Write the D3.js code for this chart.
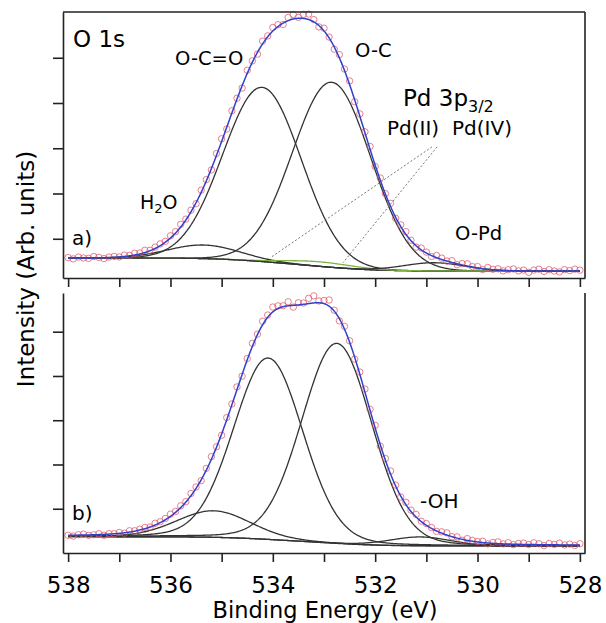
<!DOCTYPE html>
<html>
<head>
<meta charset="utf-8">
<script src="https://cdn.jsdelivr.net/npm/d3@7"></script>
<style>
  html, body { margin: 0; padding: 0; background: #fff; }
  svg { display: block; font-family: "DejaVu Sans", sans-serif; }
</style>
</head>
<body>
<svg id="chart" width="606" height="623"></svg>
<script>
// ---- data ----
const xTicks = [538, 537, 536, 535, 534, 533, 532, 531, 530, 529, 528];
const xTickLabels = [538, 536, 534, 532, 530, 528];
const topYTicks = [1, 2, 3, 4, 5];
const botYTicks = [1, 2, 3, 4, 5];

// a) fitted components: H2O, O-C=O, O-C, Pd 3p3/2 (green), O-Pd
const topCenters = [535.35, 534.21, 532.85, 533.10, 530.85];
const topHeights = [0.30, 3.85, 4.09, 0.10, 0.18];
const topFwhm    = [1.65, 1.80, 1.80, 1.55, 1.40];
const topMix = 0.0;                 // gaussian share only
const topBackground = [0.575, 0.287]; // high-BE end, low-BE end

// b) fitted components: H2O, O-C=O, O-C, -OH
const botCenters = [535.16, 534.09, 532.75, 531.12];
const botHeights = [0.60, 4.10, 4.52, 0.20];
const botFwhm    = [1.70, 1.60, 1.62, 1.40];
const botMix = 0.1;
const botBackground = [0.368, 0.158];

// measured points, 538 -> 528 eV every 0.1 eV, given as offset from the fit envelope
const topResidual = [
  0.01,-0.02,0.02,0.00,-0.01,0.03,0.01,-0.02,0.01,0.02,
  0.00,0.03,0.01,0.04,0.02,0.05,0.01,0.03,0.04,0.02,
  0.05,0.03,0.06,0.02,0.04,-0.02,0.05,0.03,-0.03,0.04,
  0.06,-0.04,0.05,0.02,-0.05,0.07,0.03,-0.04,0.06,0.02,
  0.08,0.04,-0.03,0.07,0.10,0.02,0.09,0.12,0.05,-0.03,
  0.06,0.02,-0.05,0.07,0.03,0.08,-0.04,0.05,0.02,0.06,
  -0.03,0.05,0.01,0.07,-0.02,0.04,0.06,0.01,-0.03,0.04,
  0.02,-0.02,0.05,0.03,0.00,0.04,-0.02,0.03,0.05,0.01,
  0.03,-0.02,0.04,0.01,0.03,-0.01,0.02,0.04,0.00,0.02,
  -0.03,0.02,0.04,-0.01,0.03,0.00,-0.02,0.03,0.01,0.04,0.02
];
const botResidual = [
  0.00,-0.02,0.01,0.02,-0.01,0.00,0.02,-0.02,0.01,0.00,
  0.02,-0.01,0.03,0.01,0.02,0.03,0.00,0.04,0.02,0.03,
  0.05,0.02,0.04,0.01,0.05,0.03,-0.02,0.04,0.06,0.01,
  -0.03,0.05,0.02,0.06,-0.04,0.03,0.07,0.01,0.08,0.05,
  0.11,0.06,0.02,0.09,-0.04,0.05,0.03,0.12,0.16,0.04,
  0.07,0.14,0.02,-0.05,0.06,0.03,-0.04,0.05,0.07,0.02,
  0.06,-0.03,0.04,0.07,0.02,-0.02,0.05,0.03,0.06,0.01,
  0.04,0.02,-0.01,0.03,0.05,0.00,0.03,-0.02,0.04,0.02,
  0.01,0.03,-0.02,0.02,0.04,0.00,0.03,-0.01,0.02,0.03,
  0.00,0.04,0.02,-0.02,0.03,0.01,0.04,0.00,0.02,-0.01,0.03
];

// ---- scales ----
const svg = d3.select("#chart");
const x = d3.scaleLinear().domain([538.1, 527.9]).range([63, 585]);
const yTop = d3.scaleLinear().domain([0.133, 6.011]).range([278, 12]);
const yBot = d3.scaleLinear().domain([0, 5.875]).range([553, 293]);

const energies = d3.range(0, 101).map(i => +(538 - i * 0.1).toFixed(2));
const grid = d3.range(0, 501).map(i => 528 + i * 0.02);

function pv(E, c, h, w, m) {
  const d = E - c;
  const g = Math.exp(-4 * Math.LN2 * d * d / (w * w));
  const l = 1 / (1 + 4 * d * d / (w * w));
  return h * ((1 - m) * g + m * l);
}

function drawPanel(yScale, centers, heights, fwhm, mix, bgEnds, colors, residual) {
  const peakSum = E => d3.sum(centers, (c, k) => pv(E, c, heights[k], fwhm[k], mix));
  // shirley-like step background
  let acc = 0;
  const cum = grid.map(E => (acc += peakSum(E)));
  const total = cum[cum.length - 1];
  const bg = E => {
    const i = Math.max(0, Math.min(grid.length - 1, Math.round((E - 528) / 0.02)));
    return bgEnds[1] + (bgEnds[0] - bgEnds[1]) * cum[i] / total;
  };
  const envelope = E => bg(E) + peakSum(E);

  const line = d3.line().x(d => x(d[0])).y(d => yScale(d[1]));
  const g = svg.append("g");

  g.append("path")
    .attr("d", line(grid.map(E => [E, bg(E)])))
    .attr("fill", "none").attr("stroke", "#333").attr("stroke-width", 1.3);

  centers.forEach((c, k) => {
    g.append("path")
      .attr("d", line(grid.map(E => [E, bg(E) + pv(E, c, heights[k], fwhm[k], mix)])))
      .attr("fill", "none").attr("stroke", colors[k]).attr("stroke-width", 1.3);
  });

  g.selectAll("circle.pt")
    .data(energies.map((E, i) => [E, envelope(E) + residual[i]]))
    .enter().append("circle")
    .attr("class", "pt")
    .attr("cx", d => x(d[0]))
    .attr("cy", d => yScale(d[1]))
    .attr("r", 3.2)
    .attr("fill", "none")
    .attr("stroke", "#e05565")
    .attr("stroke-opacity", 0.75)
    .attr("stroke-width", 1.0);

  g.append("path")
    .attr("d", line(grid.map(E => [E, envelope(E)])))
    .attr("fill", "none").attr("stroke", "#3040cc").attr("stroke-width", 1.5);
}

drawPanel(yTop, topCenters, topHeights, topFwhm, topMix, topBackground,
  ["#333", "#333", "#333", "#7cb342", "#333"], topResidual);
drawPanel(yBot, botCenters, botHeights, botFwhm, botMix, botBackground,
  ["#333", "#333", "#333", "#333"], botResidual);

// ---- pointer lines from Pd labels ----
const pdPointers = [[530.89, 3.03, 534.05, 0.58], [530.79, 3.03, 532.63, 0.47]];
svg.append("g").selectAll("line")
  .data(pdPointers)
  .enter().append("line")
  .attr("x1", d => x(d[0])).attr("y1", d => yTop(d[1]))
  .attr("x2", d => x(d[2])).attr("y2", d => yTop(d[3]))
  .attr("stroke", "#666").attr("stroke-width", 0.9).attr("stroke-dasharray", "2,2");

// ---- axes / frames ----
const frameColor = "#222";
function styleAxis(sel) {
  sel.selectAll("path, line").attr("stroke", frameColor).attr("stroke-width", 1.6);
}

// top panel
svg.append("g").attr("transform", "translate(0,278)")
  .call(d3.axisBottom(x).tickValues(xTicks).tickSize(9).tickSizeOuter(0).tickFormat(""))
  .call(styleAxis);
svg.append("g").attr("transform", "translate(63,0)")
  .call(d3.axisLeft(yTop).tickValues(topYTicks).tickSize(10).tickSizeOuter(0).tickFormat(""))
  .call(styleAxis);
svg.append("line").attr("x1", x.range()[0]).attr("x2", x.range()[1])
  .attr("y1", yTop.range()[1]).attr("y2", yTop.range()[1])
  .attr("stroke", frameColor).attr("stroke-width", 1.6);
svg.append("line").attr("x1", x.range()[1]).attr("x2", x.range()[1])
  .attr("y1", yTop.range()[1]).attr("y2", yTop.range()[0])
  .attr("stroke", frameColor).attr("stroke-width", 1.6);

// bottom panel
const botX = svg.append("g").attr("transform", "translate(0,553)")
  .call(d3.axisBottom(x).tickValues(xTicks).tickSize(9).tickSizeOuter(0)
    .tickFormat(d => xTickLabels.includes(d) ? d : ""))
  .call(styleAxis);
botX.selectAll("text")
  .attr("y", 40).attr("dy", 0)
  .attr("fill", "#000")
  .style("font-family", "DejaVu Sans, sans-serif")
  .style("font-size", "23px");
svg.append("g").attr("transform", "translate(63,0)")
  .call(d3.axisLeft(yBot).tickValues(botYTicks).tickSize(10).tickSizeOuter(0).tickFormat(""))
  .call(styleAxis);
svg.append("line").attr("x1", x.range()[1]).attr("x2", x.range()[1])
  .attr("y1", yBot.range()[1]).attr("y2", yBot.range()[0])
  .attr("stroke", frameColor).attr("stroke-width", 1.6);

// ---- axis titles ----
svg.append("text")
  .attr("transform", "translate(34,269) rotate(-90)")
  .attr("text-anchor", "middle")
  .style("font-size", "23px")
  .text("Intensity (Arb. units)");
svg.append("text")
  .attr("x", 325).attr("y", 618)
  .attr("text-anchor", "middle")
  .style("font-size", "22.5px")
  .text("Binding Energy (eV)");

// ---- annotations ----
function label(px, py, size, txt) {
  return svg.append("text").attr("x", px).attr("y", py)
    .style("font-size", size + "px").text(txt);
}
label(73, 47, 23, "O 1s");
label(175, 65, 19.5, "O-C=O");
label(355, 57, 19.5, "O-C");
label(387, 135, 20, "Pd(II)");
label(452, 135, 20, "Pd(IV)");
label(72, 245, 20, "a)");
label(455, 240, 19.5, "O-Pd");
label(72, 520, 20, "b)");
label(420, 508, 20, "-OH");

const pd = svg.append("text").attr("x", 403).attr("y", 106).style("font-size", "23px");
pd.append("tspan").text("Pd 3p");
pd.append("tspan").attr("dy", 6).style("font-size", "16px").text("3/2");

const h2o = svg.append("text").attr("x", 140).attr("y", 209).style("font-size", "19px");
h2o.append("tspan").text("H");
h2o.append("tspan").attr("dy", 4).style("font-size", "13px").text("2");
h2o.append("tspan").attr("dy", -4).text("O");
</script>
</body>
</html>
